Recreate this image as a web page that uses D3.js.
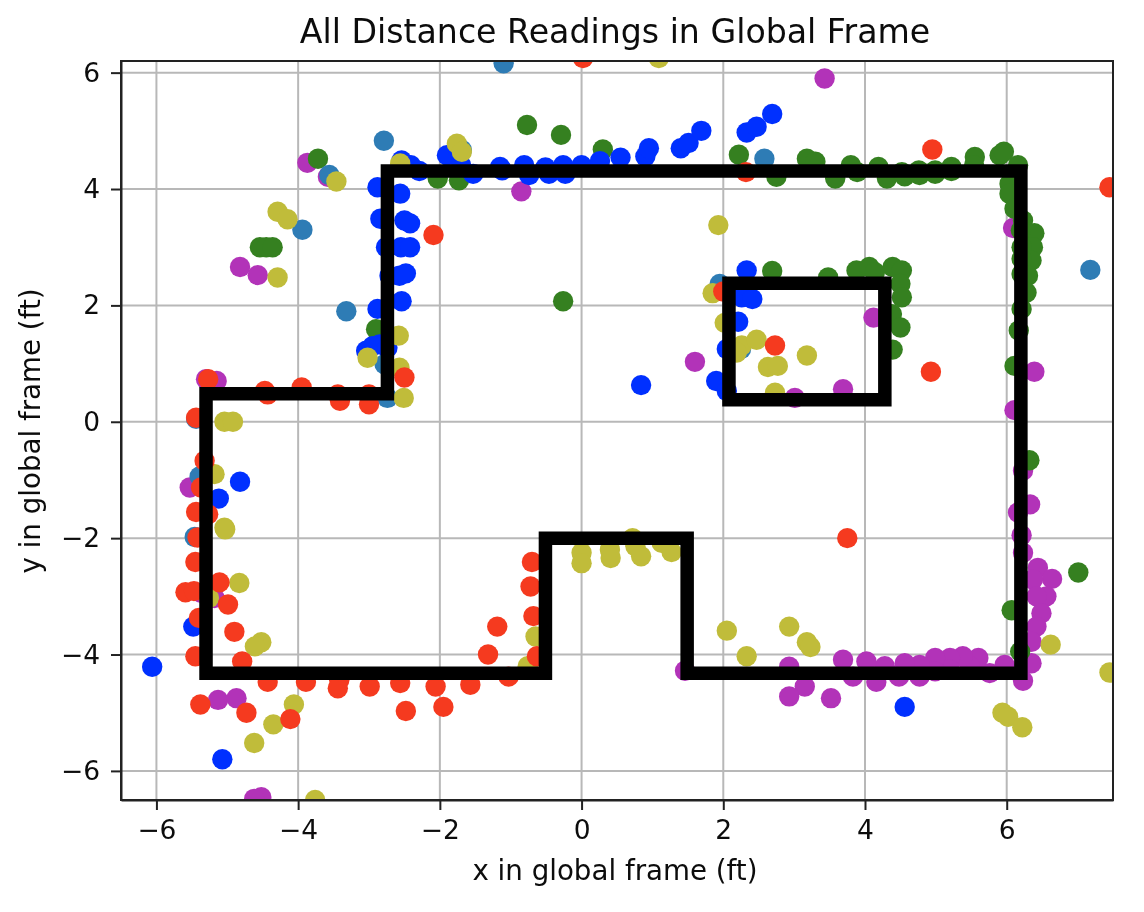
<!DOCTYPE html>
<html>
<head>
<meta charset="utf-8">
<script src="https://cdnjs.cloudflare.com/ajax/libs/d3/7.8.5/d3.min.js"></script>
<style>
  html, body { margin: 0; padding: 0; background: #fff; }
  svg { display: block; filter: blur(0.7px); }
  text { font-family: "DejaVu Sans", sans-serif; fill: #0c0c0c; }
  .grid line { stroke: #b8b8b8; stroke-width: 2; }
  .axis path { stroke: #222; stroke-width: 2; fill: none; }
  .axis line { stroke: #222; stroke-width: 2; }
</style>
</head>
<body>
<div id="chart"></div>
<script>
var xTicks = [-6, -4, -2, 0, 2, 4, 6];
var yTicks = [-6, -4, -2, 0, 2, 4, 6];

var xLimits = [-6.5, 7.5];
var yLimits = [-6.5, 6.2];

// walls of the room, and the box inside it
var outerWall = [[-5.3, 0.48], [-2.74, 0.48], [-2.74, 4.31], [6.2, 4.31], [6.2, -4.32], [1.49, -4.32],
    [1.49, -2], [-0.51, -2], [-0.51, -4.32], [-5.3, -4.32]];
var innerWall = [[2.08, 0.38], [2.08, 2.38], [4.28, 2.38], [4.28, 0.38]];

var purplePoints = [[-3.87, 4.45], [-3.58, 4.21], [-4.82, 2.66], [-4.57, 2.52], [-5.3, 0.73], [-5.15, 0.7],
    [-0.85, 3.96], [1.6, 1.03], [3.43, 5.9], [4.12, 1.79], [3.69, 0.56], [3.01, 0.41], [6.39, 0.86], [6.09, 3.33],
    [6.11, 0.2], [-5.53, -1.13], [-5.18, -3.03], [-5.37, -2.94], [-5.13, -4.78], [-4.87, -4.75], [-4.52, -6.45],
    [-4.62, -6.48], [1.46, -4.28], [6.23, -0.84], [6.33, -1.42], [6.16, -1.56], [6.21, -1.95], [6.23, -2.25],
    [6.44, -2.51], [6.64, -2.7], [6.37, -2.71], [6.56, -3], [6.42, -3], [6.49, -3.29], [6.42, -3.52], [6.35, -3.78],
    [6.35, -4.15], [6.23, -4.45], [5.97, -4.18], [5.76, -4.32], [5.6, -4.06], [5.48, -4.2], [5.38, -4.03], [5.2, -4.06],
    [5.2, -4.26], [4.99, -4.06], [4.99, -4.29], [4.77, -4.18], [4.77, -4.38], [4.56, -4.15], [4.48, -4.38], [4.28, -4.2],
    [4.16, -4.47], [4.02, -4.12], [3.83, -4.38], [3.69, -4.09], [3.52, -4.75], [3.15, -4.55], [2.93, -4.72], [2.93, -4.21]];

var greenPoints = [[-3.72, 4.52], [-2.9, 1.59], [-2.03, 4.18], [-4.54, 3], [-4.45, 3], [-4.36, 3], [-1.73, 4.15],
    [-0.77, 5.1], [-0.29, 4.93], [0.3, 4.68], [-0.26, 2.07], [2.22, 4.59], [2.75, 4.21], [2.69, 2.59], [3.18, 4.52],
    [3.3, 4.47], [3.58, 4.18], [3.8, 4.41], [3.89, 4.29], [4.19, 4.38], [4.31, 4.18], [4.52, 4.29], [4.56, 4.22],
    [4.76, 4.32], [4.77, 4.24], [4.99, 4.32], [4.99, 4.26], [5.22, 4.38], [5.22, 4.31], [5.55, 4.55], [5.54, 4.41],
    [5.9, 4.58], [5.96, 4.64], [6.16, 4.41], [6.04, 4.09], [6.04, 3.92], [6.11, 3.66], [6.23, 3.46], [6.39, 3.24],
    [6.2, 3.29], [6.37, 3], [6.21, 3], [6.35, 2.77], [6.21, 2.8], [6.3, 2.51], [6.21, 2.54], [6.28, 2.22], [6.21, 1.94],
    [6.17, 1.57], [6.11, 0.96], [3.48, 2.48], [3.88, 2.6], [4.06, 2.66], [4.14, 2.57], [4.39, 2.66], [4.52, 2.6],
    [4.5, 2.37], [4.52, 2.14], [4.38, 1.85], [4.5, 1.62], [4.39, 1.24], [6.32, -0.66], [7.01, -2.59], [6.07, -3.24],
    [6.19, -3.95]];

var steelPoints = [[-2.79, 4.83], [-3.56, 4.24], [-3.94, 3.3], [-3.32, 1.9], [-1.69, 4.67], [-2.74, 0.41],
    [-2.78, 0.99], [-1.1, 6.16], [2.58, 4.52], [7.18, 2.61], [1.95, 2.37], [-5.39, -0.94], [-5.46, -1.98], [-5.44, 0.05],
    [2.25, 1.25]];

var bluePoints = [[-2.88, 4.03], [-2.56, 3.92], [-2.84, 3.49], [-2.5, 3.46], [-2.42, 3.41], [-2.76, 3], [-2.55, 3],
    [-2.42, 3], [-2.71, 2.51], [-2.57, 2.51], [-2.48, 2.55], [-2.88, 1.94], [-2.54, 2.07], [-3.04, 1.22], [-2.95, 1.3],
    [-2.85, 1.33], [-2.74, 1.27], [-2.54, 4.49], [-2.41, 4.41], [-2.29, 4.31], [-1.9, 4.58], [-1.7, 4.41], [-1.53, 4.26],
    [-1.15, 4.38], [-1.12, 4.32], [-0.81, 4.41], [-0.74, 4.24], [-0.51, 4.37], [-0.46, 4.26], [-0.26, 4.41], [-0.23, 4.26],
    [0, 4.41], [0.26, 4.48], [0.55, 4.54], [0.9, 4.56], [0.95, 4.7], [1.4, 4.7], [1.51, 4.79], [1.69, 5], [2.33, 4.97],
    [2.47, 5.07], [2.69, 5.29], [2.33, 2.6], [2.26, 2.14], [2.41, 2.11], [2.21, 1.72], [2.05, 1.25], [1.9, 0.7], [2.05, 0.53],
    [0.84, 0.63], [-4.82, -1.03], [-5.12, -1.32], [-5.48, -3.52], [-6.06, -4.21], [-5.07, -5.8], [4.56, -4.9]];

var olivePoints = [[-4.29, 3.61], [-4.15, 3.48], [-4.29, 2.48], [-3.46, 4.13], [-2.56, 4.44], [-2.58, 1.48], [-3.02, 1.1],
    [-2.57, 0.93], [-2.51, 0.41], [-1.76, 4.78], [-1.69, 4.64], [1.09, 6.25], [1.93, 3.38], [1.85, 2.21], [2.02, 1.7],
    [2.26, 1.31], [2.47, 1.41], [2.63, 0.94], [2.77, 0.96], [2.73, 0.5], [2.19, 1.19], [3.18, 1.14], [-5.04, 0], [-4.92, 0],
    [-5.18, -0.9], [-5.04, -1.82], [-5.03, -1.85], [-4.83, -2.77], [-5.26, -3.03], [-4.52, -3.79], [-4.61, -3.86],
    [-4.06, -4.86], [-4.35, -5.2], [-4.62, -5.52], [-3.76, -6.5], [0, -2.25], [0, -2.43], [0.4, -2.2], [0.41, -2.34],
    [0.72, -2], [0.76, -2.14], [0.84, -2.31], [1.13, -2.08], [1.27, -2.24], [-0.65, -3.69], [-0.76, -4.2], [2.05, -3.59],
    [2.33, -4.03], [2.93, -3.52], [3.18, -3.79], [3.23, -3.87], [6.62, -3.83], [7.45, -4.31], [5.94, -5], [6.02, -5.07],
    [6.22, -5.25]];

var redPoints = [[-2.09, 3.21], [-2.5, 0.76], [-5.27, 0.73], [-4.47, 0.53], [-4.43, 0.47], [-3.95, 0.59], [-3.44, 0.47],
    [-3.41, 0.36], [-3, 0.47], [-3, 0.3], [-5.44, 0.07], [-5.32, -0.67], [-5.37, -1.13], [-5.44, -1.55], [-5.27, -1.59],
    [-5.42, -1.99], [-5.45, -2.41], [-5.11, -2.76], [-5.59, -2.93], [-5.47, -2.91], [-4.99, -3.14], [-5.4, -3.37],
    [-4.9, -3.61], [-5.45, -4.03], [-4.79, -4.12], [-4.43, -4.47], [-3.89, -4.47], [-3.42, -4.44], [-3.44, -4.58],
    [-2.99, -4.55], [-2.56, -4.49], [-2.06, -4.55], [-1.95, -4.9], [-2.48, -4.97], [-5.38, -4.86], [-4.73, -5], [-4.11, -5.11],
    [-1.57, -4.52], [-1.32, -4], [-1.19, -3.52], [-1.03, -4.38], [-0.7, -2.41], [-0.72, -2.83], [-0.68, -3.34], [-0.63, -4.03],
    [0.02, 6.25], [2.32, 4.29], [2, 2.24], [2.73, 1.31], [4.95, 4.68], [4.93, 0.86], [7.45, 4.03], [3.75, -2]];

var width = 1144;
var height = 912;
var margin = { top: 61, right: 31, bottom: 112, left: 121 };
var innerWidth = width - margin.left - margin.right;
var innerHeight = height - margin.top - margin.bottom;

var xScale = d3.scaleLinear().domain(xLimits).range([0, innerWidth]);
var yScale = d3.scaleLinear().domain(yLimits).range([innerHeight, 0]);

var svg = d3.select("#chart").append("svg")
    .attr("width", width)
    .attr("height", height);

svg.append("defs").append("clipPath").attr("id", "plot-clip")
    .append("rect").attr("width", innerWidth).attr("height", innerHeight);

var g = svg.append("g")
    .attr("transform", "translate(" + margin.left + "," + margin.top + ")");

// grid
g.append("g").attr("class", "grid").selectAll("line").data(xTicks).enter().append("line")
    .attr("x1", function (d) { return xScale(d); })
    .attr("x2", function (d) { return xScale(d); })
    .attr("y1", 0)
    .attr("y2", innerHeight);

g.append("g").attr("class", "grid").selectAll("line").data(yTicks).enter().append("line")
    .attr("y1", function (d) { return yScale(d); })
    .attr("y2", function (d) { return yScale(d); })
    .attr("x1", 0)
    .attr("x2", innerWidth);

// readings, one colour per run
var plot = g.append("g").attr("clip-path", "url(#plot-clip)");

var series = [
    { points: purplePoints, color: "#b233b8" },
    { points: greenPoints, color: "#358020" },
    { points: steelPoints, color: "#2e7cb5" },
    { points: bluePoints, color: "#0030ff" },
    { points: olivePoints, color: "#c0bc3a" },
    { points: redPoints, color: "#f53a1f" }
];

series.forEach(function (s) {
    plot.append("g").selectAll("circle").data(s.points).enter().append("circle")
        .attr("cx", function (d) { return xScale(d[0]); })
        .attr("cy", function (d) { return yScale(d[1]); })
        .attr("r", 10.2)
        .attr("fill", s.color);
});

// walls
var wallLine = d3.line()
    .x(function (d) { return xScale(d[0]); })
    .y(function (d) { return yScale(d[1]); });

[outerWall, innerWall].forEach(function (wall) {
    plot.append("path")
        .attr("d", wallLine(wall) + "Z")
        .attr("fill", "none")
        .attr("stroke", "#000")
        .attr("stroke-width", 13.5)
        .attr("stroke-linejoin", "miter");
});

// axes
var xAxis = d3.axisBottom(xScale).tickValues(xTicks).tickSize(10).tickSizeOuter(0).tickPadding(10).tickFormat(d3.format("d"));
var yAxis = d3.axisLeft(yScale).tickValues(yTicks).tickSize(10).tickSizeOuter(0).tickPadding(11).tickFormat(d3.format("d"));

g.append("g").attr("class", "axis")
    .attr("transform", "translate(0," + innerHeight + ")")
    .call(xAxis);
g.append("g").attr("class", "axis").call(yAxis);
g.selectAll(".axis text").style("font-size", "26.5px").style("font-family", '"DejaVu Sans", sans-serif');

// frame for top and right edges
g.append("rect")
    .attr("width", innerWidth)
    .attr("height", innerHeight)
    .attr("fill", "none")
    .attr("stroke", "#222")
    .attr("stroke-width", 2);

svg.append("text")
    .attr("x", 615)
    .attr("y", 43)
    .attr("text-anchor", "middle")
    .style("font-size", "33.2px")
    .text("All Distance Readings in Global Frame");

svg.append("text")
    .attr("x", 615)
    .attr("y", 880)
    .attr("text-anchor", "middle")
    .style("font-size", "27.7px")
    .text("x in global frame (ft)");

svg.append("text")
    .attr("transform", "translate(40,431) rotate(-90)")
    .attr("text-anchor", "middle")
    .style("font-size", "27.7px")
    .text("y in global frame (ft)");
</script>
</body>
</html>
